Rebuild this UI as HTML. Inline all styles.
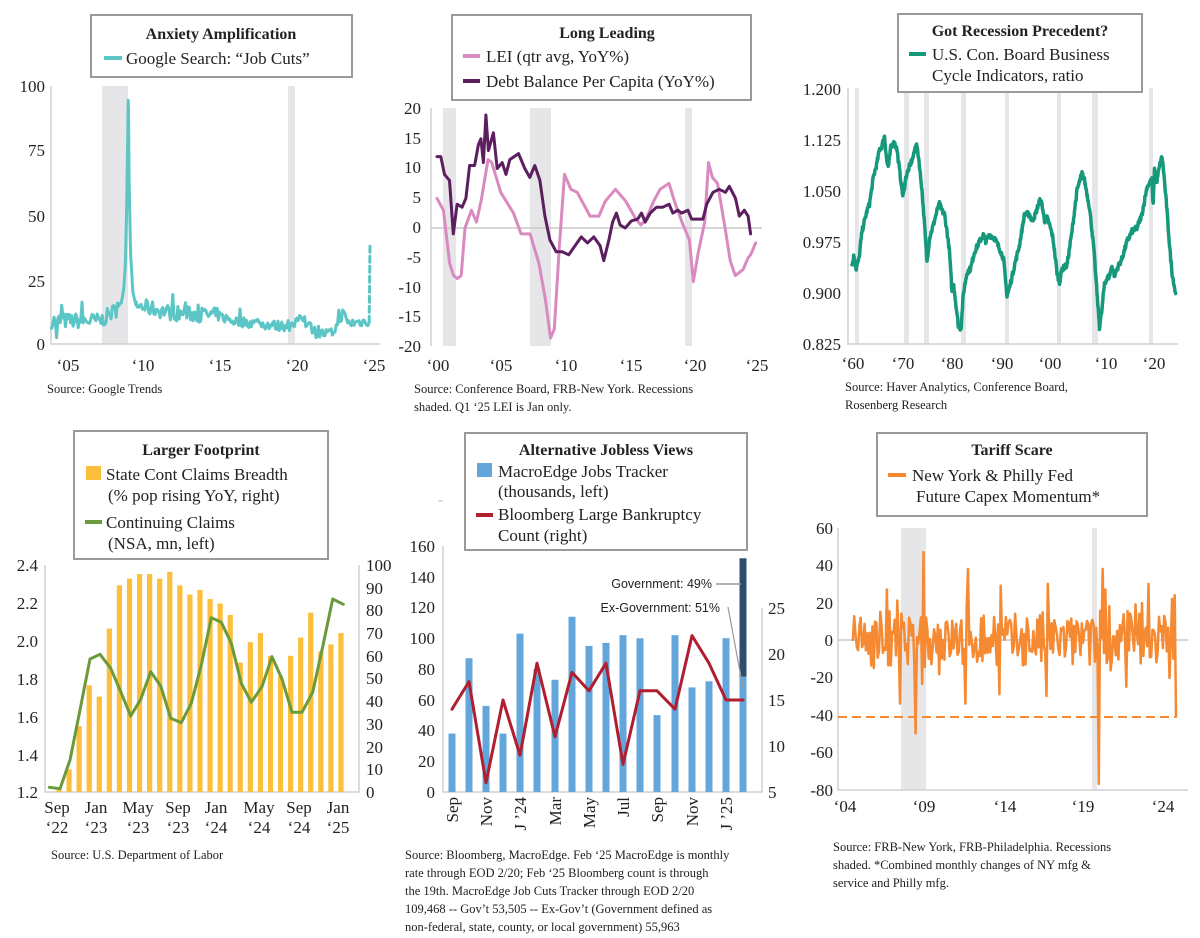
<!DOCTYPE html>
<html><head><meta charset="utf-8"><style>
html,body{margin:0;padding:0;background:#fff}
svg{display:block;font-family:"Liberation Serif",serif}
.t{font-size:17px;fill:#222}
.tk{font-size:17px;fill:#222}
.src{font-size:12.5px;fill:#222}
.ttl{font-size:16px;font-weight:bold;fill:#222}
.box{fill:#fff;stroke:#9a9a9a;stroke-width:2}
.ax{stroke:#d0d0d0;stroke-width:1.5;fill:none}
.rec{fill:#e6e6e8}
</style></head><body>
<svg id="s" width="1200" height="938" viewBox="0 0 1200 938" xmlns="http://www.w3.org/2000/svg">
<!-- Panel 1 -->
<rect class="rec" x="102" y="86" width="26" height="258"/>
<rect class="rec" x="288" y="86" width="7" height="258"/>
<path class="ax" d="M51,86V344H380"/>
<g class="tk" text-anchor="end"><text x="45" y="92">100</text><text x="45" y="156">75</text><text x="45" y="222">50</text><text x="45" y="287">25</text><text x="45" y="350">0</text></g>
<g class="tk" text-anchor="middle"><text x="68" y="371">‘05</text><text x="143" y="371">‘10</text><text x="220" y="371">‘15</text><text x="297" y="371">‘20</text><text x="374" y="371">‘25</text></g>
<g id="p1"></g>
<rect class="box" x="91" y="15" width="261" height="62"/>
<text class="ttl" x="221" y="39" text-anchor="middle">Anxiety Amplification</text>
<line x1="104" y1="58" x2="122" y2="58" stroke="#5cc5c5" stroke-width="4"/>
<text class="t" x="126" y="64">Google Search:  “Job Cuts”</text>
<text class="src" x="47" y="393">Source: Google Trends</text>

<!-- Panel 2 -->
<rect class="rec" x="443" y="108" width="13" height="238"/>
<rect class="rec" x="530" y="108" width="21" height="238"/>
<rect class="rec" x="685" y="108" width="7" height="238"/>
<path class="ax" d="M431,108V346"/>
<line x1="431" y1="228" x2="762" y2="228" stroke="#c8c8c8" stroke-width="1.5"/>
<g class="tk" text-anchor="end"><text x="421" y="114">20</text><text x="421" y="144">15</text><text x="421" y="173">10</text><text x="421" y="203">5</text><text x="421" y="233">0</text><text x="421" y="263">-5</text><text x="421" y="293">-10</text><text x="421" y="322">-15</text><text x="421" y="352">-20</text></g>
<g class="tk" text-anchor="middle"><text x="438" y="371">‘00</text><text x="501" y="371">‘05</text><text x="566" y="371">‘10</text><text x="631" y="371">‘15</text><text x="695" y="371">‘20</text><text x="757" y="371">‘25</text></g>
<g id="p2"></g>
<rect class="box" x="452" y="15" width="299" height="85"/>
<text class="ttl" x="607" y="38" text-anchor="middle">Long Leading</text>
<line x1="463" y1="56" x2="480" y2="56" stroke="#d98ac0" stroke-width="4"/>
<text class="t" x="486" y="62">LEI (qtr avg, YoY%)</text>
<line x1="463" y1="81" x2="480" y2="81" stroke="#5b1e5f" stroke-width="4"/>
<text class="t" x="486" y="87">Debt Balance Per Capita (YoY%)</text>
<text class="src" x="414" y="393">Source: Conference Board, FRB-New York. Recessions</text>
<text class="src" x="414" y="411">shaded. Q1 ‘25 LEI is Jan only.</text>

<!-- Panel 3 -->
<g class="rec"><rect x="855" y="88" width="4" height="256"/><rect x="904" y="88" width="5" height="256"/><rect x="924" y="88" width="5" height="256"/><rect x="961" y="88" width="5" height="256"/><rect x="1005" y="88" width="4" height="256"/><rect x="1057" y="88" width="4" height="256"/><rect x="1092" y="88" width="6" height="256"/><rect x="1149" y="88" width="4" height="256"/></g>
<path class="ax" d="M848,88V344H1178"/>
<g class="tk" text-anchor="end"><text x="841" y="95">1.200</text><text x="841" y="146">1.125</text><text x="841" y="197">1.050</text><text x="841" y="248">0.975</text><text x="841" y="299">0.900</text><text x="841" y="350">0.825</text></g>
<g class="tk" text-anchor="middle"><text x="853" y="369">‘60</text><text x="903" y="369">‘70</text><text x="952" y="369">‘80</text><text x="1002" y="369">‘90</text><text x="1050" y="369">‘00</text><text x="1106" y="369">‘10</text><text x="1154" y="369">‘20</text></g>
<g id="p3"></g>
<rect class="box" x="898" y="14" width="244" height="78"/>
<text class="ttl" x="1020" y="36" text-anchor="middle">Got Recession Precedent?</text>
<line x1="909" y1="54" x2="926" y2="54" stroke="#16997a" stroke-width="4"/>
<text class="t" x="932" y="60">U.S. Con. Board Business</text>
<text class="t" x="932" y="81">Cycle Indicators, ratio</text>
<text class="src" x="845" y="391">Source: Haver Analytics, Conference Board,</text>
<text class="src" x="845" y="409">Rosenberg Research</text>

<!-- Panel 4 -->
<path class="ax" d="M45,565V792H359V565"/>
<g class="tk" text-anchor="end"><text x="38" y="571">2.4</text><text x="38" y="609">2.2</text><text x="38" y="647">2.0</text><text x="38" y="685">1.8</text><text x="38" y="723">1.6</text><text x="38" y="761">1.4</text><text x="38" y="798">1.2</text></g>
<g class="tk" text-anchor="start"><text x="366" y="571">100</text><text x="366" y="594">90</text><text x="366" y="616">80</text><text x="366" y="639">70</text><text x="366" y="662">60</text><text x="366" y="684">50</text><text x="366" y="707">40</text><text x="366" y="730">30</text><text x="366" y="753">20</text><text x="366" y="775">10</text><text x="366" y="798">0</text></g>
<g class="tk" text-anchor="middle"><text x="57" y="813">Sep</text><text x="57" y="833">‘22</text><text x="96" y="813">Jan</text><text x="96" y="833">‘23</text><text x="138" y="813">May</text><text x="138" y="833">‘23</text><text x="178" y="813">Sep</text><text x="178" y="833">‘23</text><text x="216" y="813">Jan</text><text x="216" y="833">‘24</text><text x="259" y="813">May</text><text x="259" y="833">‘24</text><text x="299" y="813">Sep</text><text x="299" y="833">‘24</text><text x="338" y="813">Jan</text><text x="338" y="833">‘25</text></g>
<g id="p4"></g>
<rect class="box" x="74" y="431" width="254" height="128"/>
<text class="ttl" x="201" y="455" text-anchor="middle">Larger Footprint</text>
<rect x="86" y="466" width="15" height="14" fill="#fbbf3c"/>
<text class="t" x="106" y="480">State Cont Claims Breadth</text>
<text class="t" x="108" y="501">(% pop rising YoY, right)</text>
<line x1="85" y1="522" x2="102" y2="522" stroke="#6a9a3a" stroke-width="4"/>
<text class="t" x="106" y="528">Continuing Claims</text>
<text class="t" x="108" y="549">(NSA, mn, left)</text>
<text class="src" x="51" y="859">Source: U.S. Department of Labor</text>

<!-- Panel 5 -->
<line x1="438" y1="501" x2="443" y2="501" stroke="#bbb"/>
<path class="ax" d="M443,546V792H762V608"/>
<g class="tk" text-anchor="end"><text x="435" y="552">160</text><text x="435" y="583">140</text><text x="435" y="613">120</text><text x="435" y="644">100</text><text x="435" y="675">80</text><text x="435" y="706">60</text><text x="435" y="736">40</text><text x="435" y="767">20</text><text x="435" y="798">0</text></g>
<g class="tk" text-anchor="start"><text x="768" y="614">25</text><text x="768" y="660">20</text><text x="768" y="706">15</text><text x="768" y="752">10</text><text x="768" y="798">5</text></g>
<g class="tk" text-anchor="end" id="p5l"></g>
<g id="p5"></g>
<text x="712" y="588" text-anchor="end" font-family="Liberation Sans,sans-serif" font-size="12.5" fill="#222">Government: 49%</text>
<line x1="716" y1="584" x2="741" y2="584" stroke="#999" stroke-width="1.5"/>
<text x="720" y="612" text-anchor="end" font-family="Liberation Sans,sans-serif" font-size="12.5" fill="#222">Ex-Government: 51%</text>
<line x1="728" y1="607" x2="743" y2="688" stroke="#999" stroke-width="1.2"/>
<rect class="box" x="465" y="433" width="282" height="117"/>
<text class="ttl" x="606" y="455" text-anchor="middle">Alternative Jobless Views</text>
<rect x="477" y="463" width="15" height="14" fill="#62a6dc"/>
<text class="t" x="498" y="477">MacroEdge Jobs Tracker</text>
<text class="t" x="498" y="497">(thousands, left)</text>
<line x1="476" y1="515" x2="493" y2="515" stroke="#b01e2f" stroke-width="4"/>
<text class="t" x="498" y="520">Bloomberg Large Bankruptcy</text>
<text class="t" x="498" y="541">Count (right)</text>
<g class="src"><text x="405" y="859">Source: Bloomberg, MacroEdge. Feb ‘25 MacroEdge is monthly</text><text x="405" y="877">rate through EOD 2/20; Feb ‘25 Bloomberg count is through</text><text x="405" y="895">the 19th. MacroEdge Job Cuts Tracker through EOD 2/20</text><text x="405" y="913">109,468 -- Gov’t 53,505 -- Ex-Gov’t (Government defined as</text><text x="405" y="931">non-federal, state, county, or local government) 55,963</text></g>

<!-- Panel 6 -->
<rect class="rec" x="901" y="528" width="25" height="262"/>
<rect class="rec" x="1092" y="528" width="5" height="262"/>
<path class="ax" d="M838,528V790H1188"/>
<line x1="838" y1="640" x2="1188" y2="640" stroke="#c8c8c8" stroke-width="1.5"/>
<g class="tk" text-anchor="end"><text x="833" y="534">60</text><text x="833" y="571">40</text><text x="833" y="609">20</text><text x="833" y="646">0</text><text x="833" y="683">-20</text><text x="833" y="721">-40</text><text x="833" y="758">-60</text><text x="833" y="796">-80</text></g>
<g class="tk" text-anchor="middle"><text x="845" y="812">‘04</text><text x="924" y="812">‘09</text><text x="1005" y="812">‘14</text><text x="1083" y="812">‘19</text><text x="1163" y="812">‘24</text></g>
<g id="p6"></g>
<line x1="838" y1="717" x2="1175" y2="717" stroke="#f58a33" stroke-width="2" stroke-dasharray="9,5"/>
<rect class="box" x="877" y="433" width="270" height="83"/>
<text class="ttl" x="1012" y="455" text-anchor="middle">Tariff Scare</text>
<line x1="888" y1="475" x2="906" y2="475" stroke="#f58a33" stroke-width="4"/>
<text class="t" x="912" y="481">New York &amp; Philly Fed</text>
<text class="t" x="916" y="502">Future Capex Momentum*</text>
<g class="src"><text x="833" y="851">Source: FRB-New York, FRB-Philadelphia. Recessions</text><text x="833" y="869">shaded.  *Combined monthly changes of NY mfg &amp;</text><text x="833" y="887">service and Philly mfg.</text></g>
</svg>
<script>
var NS="http://www.w3.org/2000/svg";
function el(g,tag,a){var e=document.createElementNS(NS,tag);for(var k in a)e.setAttribute(k,a[k]);document.getElementById(g).appendChild(e);return e;}
function pl(g,pts,col,w,dash){var d=pts.map(function(p,i){return (i?"L":"M")+p[0].toFixed(1)+","+p[1].toFixed(1)}).join("");var a={d:d,fill:"none",stroke:col,"stroke-width":w,"stroke-linejoin":"round","stroke-linecap":"round"};if(dash)a["stroke-dasharray"]=dash;el(g,"path",a);}
var seed=7;function rnd(){seed=(seed*16807)%2147483647;return seed/2147483647;}
function interp(kp,t){for(var i=0;i<kp.length-1;i++){if(t<=kp[i+1][0]){var f=(t-kp[i][0])/(kp[i+1][0]-kp[i][0]);return kp[i][1]+f*(kp[i+1][1]-kp[i][1]);}}return kp[kp.length-1][1];}
// P1
(function(){var X=function(y){return 66+(y-2005)*15.2},Y=function(v){return 344-v*2.58};
var base=[[2004,9],[2007.3,9],[2008.7,15],[2008.9,30],[2009.0,55],[2009.1,98],[2009.16,60],[2009.25,35],[2009.4,20],[2009.6,15],[2012,12],[2015,11],[2016,9],[2019,7],[2020,7],[2020.5,10],[2021.2,6],[2021.5,4],[2022.5,4],[2022.9,8],[2023.2,12],[2023.6,8],[2025,9]];
var pts=[];var t=2004.05;while(t<=2024.96){var b=interp(base,t);var sp=(t>2008.85&&t<2009.6);var amp=sp?0:(t<2015?3:2);var v=b+(rnd()-0.5)*amp*2;if(!sp&&rnd()<0.07)v+=amp*1.6;if(Math.abs(t-2004.4)<0.05)v=0;pts.push([X(t),Y(Math.max(v,2.5))]);t+=sp?1/48:1/12;}
pl("p1",pts,"#5cc5c5",3);var l=pts[pts.length-1];pl("p1",[l,[X(2025.0),Y(38)]],"#5cc5c5",3,"6,4");})();
// P2
(function(){var X=function(y){return 437+(y-2000)*12.8},Y=function(v){return 228-v*5.95};
var lei=[[2000,5],[2000.5,3],[2001,-6],[2001.3,-8],[2001.6,-8.5],[2001.9,-8],[2002.2,0],[2002.7,3],[2003.1,1],[2003.5,5],[2004,11.5],[2004.3,11],[2005,6],[2006,2.5],[2006.6,-1],[2007.3,-1],[2008,-6],[2008.5,-12],[2008.9,-18.5],[2009.2,-17],[2009.6,-3],[2010,9],[2010.5,6.5],[2011,6],[2011.5,4],[2012,2],[2012.7,2],[2013.2,4.5],[2014,6.5],[2014.8,4.5],[2015.6,1.5],[2016,0.5],[2016.4,1.5],[2017,4.5],[2017.5,6.5],[2018.2,7.5],[2018.7,4],[2019.3,0.5],[2019.8,-2],[2020.1,-9],[2020.5,-4],[2021,1],[2021.3,11],[2021.6,8.5],[2022,7.5],[2022.6,0],[2023,-5.5],[2023.4,-8],[2024,-7],[2024.4,-5],[2024.6,-4.5],[2025,-2.5]];
var debt=[[2000,12],[2000.3,12],[2000.6,9],[2001,8],[2001.3,-1],[2001.6,4],[2002,3.5],[2002.3,5],[2002.6,10.5],[2003,10.5],[2003.3,14],[2003.5,15],[2003.7,11],[2003.9,19],[2004.1,13],[2004.5,16],[2004.8,10],[2005.2,11],[2005.5,9],[2005.8,11.5],[2006.5,12.5],[2007,10],[2007.4,8.5],[2007.8,10.5],[2008.2,8],[2008.6,2],[2009,-2],[2009.5,-4],[2010,-4],[2010.5,-4.5],[2011,-3],[2011.5,-1.5],[2012,-2.5],[2012.5,-1.5],[2013,-3],[2013.3,-5.5],[2013.7,-2],[2014,1],[2014.3,2.5],[2014.6,0.5],[2015,0],[2015.5,1.2],[2016,1.5],[2016.3,2.5],[2016.6,1],[2017,2.5],[2017.5,3.5],[2018,3.5],[2018.5,4],[2018.8,2.5],[2019.2,3],[2019.5,2.5],[2020,3],[2020.3,1.5],[2020.8,1.5],[2021.2,1.5],[2021.5,4],[2022,6],[2022.5,6.5],[2023,6],[2023.3,7],[2023.8,5],[2024.1,2],[2024.5,3],[2024.8,2],[2025,-1]];
function sc(a,end){return a.map(function(p){return [X(2000+(p[0]-2000)*(end-2000)/25),Y(p[1])]})}
pl("p2",sc(lei,2024.9),"#d98ac0",3);pl("p2",sc(debt,2024.5),"#5b1e5f",3);})();
// P3
(function(){var X=function(y){return 852+(y-1960)*5.0},Y=function(v){return 344-(v-0.825)*682.7};
var d=[[1960,0.94],[1960.4,0.955],[1960.8,0.935],[1961.4,0.95],[1962,0.99],[1963,1.02],[1963.5,1.03],[1964.3,1.07],[1965,1.09],[1965.5,1.11],[1966,1.115],[1966.5,1.13],[1967,1.09],[1967.3,1.085],[1967.8,1.115],[1968.5,1.12],[1969,1.11],[1969.5,1.08],[1970.2,1.04],[1970.8,1.07],[1971.5,1.085],[1972.3,1.1],[1972.8,1.12],[1973.3,1.1],[1974,1.05],[1974.5,1.0],[1975,0.945],[1975.5,0.98],[1976.3,1.0],[1977,1.02],[1977.5,1.03],[1978,1.02],[1978.5,1.015],[1979,0.99],[1979.5,0.96],[1980,0.9],[1980.3,0.915],[1980.6,0.895],[1981.3,0.85],[1981.8,0.848],[1982.3,0.9],[1983,0.93],[1983.7,0.935],[1984.5,0.96],[1985.5,0.975],[1986.3,0.985],[1986.8,0.975],[1987.5,0.985],[1988.5,0.98],[1989.5,0.965],[1990.3,0.95],[1991,0.895],[1991.6,0.91],[1992.5,0.94],[1993.5,0.97],[1994.5,1.015],[1995.5,1.015],[1996,1.005],[1996.7,1.015],[1997.5,1.035],[1998,1.03],[1998.5,1.005],[1999,1.01],[1999.5,1.0],[2000.2,0.98],[2001,0.93],[2001.5,0.915],[2002,0.935],[2003,0.94],[2004,0.99],[2005,1.05],[2006,1.075],[2006.5,1.065],[2007.5,1.025],[2008.3,0.97],[2009,0.9],[2009.5,0.85],[2010,0.875],[2010.5,0.915],[2011.5,0.925],[2012,0.94],[2012.5,0.925],[2013,0.935],[2014,0.95],[2015,0.975],[2016,0.99],[2017,0.995],[2018,1.015],[2019,1.055],[2019.5,1.06],[2020,1.065],[2020.2,1.025],[2020.5,1.08],[2021,1.065],[2021.5,1.085],[2022,1.1],[2022.3,1.08],[2023,1.02],[2023.5,0.97],[2024,0.93],[2024.8,0.895]];
var pts=[];for(var t=1960;t<=2024.8;t+=1/12){pts.push([X(t),Y(interp(d,t)+(rnd()-0.5)*0.008)]);}pl("p3",pts,"#16997a",3.5);})();
// P4
(function(){var bars=[1,10,29,47,42,72,91,94,96,96,94,97,91,87,89,85,83,78,57,66,70,60,51,60,68,79,62,65,70];
var X=function(i){return 59+i*10.07};
bars.forEach(function(v,i){el("p4","rect",{x:X(i)-2.6,y:792-v*2.27,width:5.2,height:v*2.27,fill:"#fbbf3c"});});
var zl=[[148,1012],[180,1016],[210,930],[240,780],[270,627],[300,613],[332,655],[362,725],[392,798],[422,748],[452,665],[482,708],[512,805],[544,818],[574,760],[604,645],[634,503],[664,517],[694,580],[724,700],[754,757],[786,710],[816,620],[846,687],[876,787],[906,787],[938,727],[968,590],[998,447],[1030,463]];
pl("p4",zl.map(function(p){return [p[0]/3,450+p[1]/3]}),"#6a9a3a",3);})();
// P5
(function(){var xs=[452,469,486,503,520,537,555,572,589,606,623,640,657,675,692,709,726,743];
var b=[38,87,56,38,103,80,73,114,95,97,102,100,50,102,68,72,100,75];
var ln=[14,17,6,15,9,19,11,18,16,19,8,16,16,14,22,19,15,15];
var Yb=function(v){return 792-v*1.5375},Yr=function(v){return 792-(v-5)*9.2};
xs.forEach(function(x,i){el("p5","rect",{x:x-3.5,y:Yb(b[i]),width:7,height:b[i]*1.5375,fill:"#62a6dc"});});
el("p5","rect",{x:739.5,y:Yb(152),width:7,height:(152-75)*1.5375,fill:"#2c4d6e"});
pl("p5",xs.map(function(x,i){return [x,Yr(ln[i])]}),"#b01e2f",3);
var labs=["Sep","Nov","J ’24","Mar","May","Jul","Sep","Nov","J ’25"];
labs.forEach(function(s,i){var x=xs[i*2]+6;var t=el("p5l","text",{x:0,y:0,transform:"translate("+x+",797) rotate(-90)"});t.textContent=s;});})();
// P6
(function(){var X=function(y){return 845+(y-2004)*15.7},Y=function(v){return 640-v*1.87};
var ov={"2008.5":-50,"2009.0":47,"2009.3":-10,"2011.7":-34,"2011.8":38,"2020.2":-77,"2020.4":38,"2020.6":27,"2016.9":30,"2016.8":-30,"2013.9":29,"2013.8":-29,"2023.3":30,"2006.7":27,"2007.5":-34,"2021.9":-25};
var pts=[],prev=0;for(var m=0;m<=247;m++){var t=2004.5+m/12;var k=t.toFixed(1);var v=(rnd()-0.5)*34;if(rnd()<0.12)v*=1.6;v=v*0.8-prev*0.2;if(ov[k]!==undefined&&Math.abs(t-parseFloat(k))<0.045)v=ov[k];if(m==0)v=0;if(m>=244)v=[22,-10,24,-41][m-244];prev=v;pts.push([X(t),Y(v)]);}
pl("p6",pts,"#f58a33",2.5);})();
</script>
</body></html>
